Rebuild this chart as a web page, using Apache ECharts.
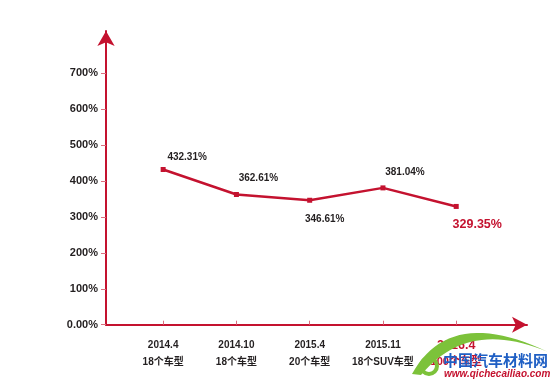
<!DOCTYPE html>
<html><head><meta charset="utf-8">
<script src="https://cdn.jsdelivr.net/npm/echarts@6/dist/echarts.min.js"></script>
<style>html,body{margin:0;padding:0;background:#fff}#c{width:559px;height:387px}</style>
</head><body><div id="c"></div>
<script>
const dates = ['2014.4','2014.10','2015.4','2015.11','2016.4'];
const models = ['18个车型','18个车型','20个车型','18个SUV车型','100个车型'];
const values = [432.31, 362.61, 346.61, 381.04, 329.35];
const yTicks = [0,100,200,300,400,500,600,700];

const RED = '#c4122f';
const DARK = '#231f20';
const FONT = '"Liberation Sans","Noto Sans CJK SC",Arial,sans-serif';

const labelCfg = [
  {position:'top', offset:[24,0]},
  {position:'top', offset:[22,-4]},
  {position:'bottom', offset:[15,6]},
  {position:'top', offset:[22,-3]},
  {position:'bottom', offset:[21,4], color:RED, fontSize:12.5}
];

// watermark swoosh outline (decoration only)
function quad(p0, c, p1, n){
  const pts = [];
  for(let k=0;k<=n;k++){
    const t=k/n, u=1-t;
    pts.push([u*u*p0[0]+2*u*t*c[0]+t*t*p1[0], u*u*p0[1]+2*u*t*c[1]+t*t*p1[1]]);
  }
  return pts;
}
const swoosh = quad([412,374],[450,305],[548,352],24).concat(quad([548,352],[468,318],[421,375],24));

const chart = echarts.init(document.getElementById('c'), null, {renderer:'canvas'});
chart.setOption({
  animation:false,
  backgroundColor:'#fff',
  grid:{left:106, right:32, top:31, bottom:62.3, containLabel:false},
  xAxis:{
    type:'value', min:-0.78, max:4.966,
    splitLine:{show:false},
    axisLine:{show:true, onZero:false, lineStyle:{color:RED, width:2}, symbol:['none','arrow'], symbolSize:[12,15]},
    axisTick:{show:true, inside:true, length:4, lineStyle:{color:'#d9707f', width:1}, customValues:[0,1,2,3,4]},
    axisLabel:{
      customValues:[0,1,2,3,4], margin:12, fontFamily:FONT, fontWeight:'bold', fontSize:10, color:DARK, lineHeight:17,
      formatter:function(v){
        const i = Math.round(v);
        if(i===4) return '{r|'+dates[i]+'}\n{r2|'+models[i]+'}';
        return dates[i]+'\n'+models[i];
      },
      rich:{
        r:{color:RED, fontSize:12.5, fontWeight:'bold', fontFamily:FONT, lineHeight:17},
        r2:{color:RED, fontSize:11, fontWeight:'bold', fontFamily:FONT, lineHeight:17}
      }
    }
  },
  yAxis:{
    type:'value', min:0, max:818,
    splitLine:{show:false},
    axisLine:{show:true, onZero:false, lineStyle:{color:RED, width:2}, symbol:['none','arrow'], symbolSize:[13,15]},
    axisTick:{show:true, inside:false, length:5, lineStyle:{color:'#d9707f', width:1}, customValues:yTicks},
    axisLabel:{
      customValues:yTicks, margin:8, fontFamily:FONT, fontWeight:'bold', fontSize:11, color:DARK,
      formatter:function(v){ return v===0 ? '0.00%' : v+'%'; }
    }
  },
  series:[{
    type:'line',
    data: values.map((v,i)=>({
      value:[i,v],
      label:Object.assign({show:true, fontFamily:FONT, fontWeight:'bold', fontSize:10, color:DARK,
        formatter:function(p){return p.value[1].toFixed(2)+'%';}}, labelCfg[i])
    })),
    symbol:'rect', symbolSize:5,
    lineStyle:{color:RED, width:2.5},
    itemStyle:{color:RED}
  }],
  graphic:[
    {type:'polygon', z:100, shape:{points:swoosh}, style:{fill:'#7cc23a'}, silent:true},
    {type:'circle', z:100, shape:{cx:429, cy:366, r:8}, style:{stroke:'#7cc23a', lineWidth:4, fill:null}, silent:true},
    {type:'text', z:101, left:443, top:353, style:{text:'中国汽车材料网', fill:'#1f5fc4', font:'bold 15px "Noto Sans CJK SC"'}, silent:true},
    {type:'text', z:101, left:444, top:369, style:{text:'www.qichecailiao.com', fill:RED, font:'italic bold 10px "Liberation Sans",Arial'}, silent:true}
  ]
});
</script></body></html>
